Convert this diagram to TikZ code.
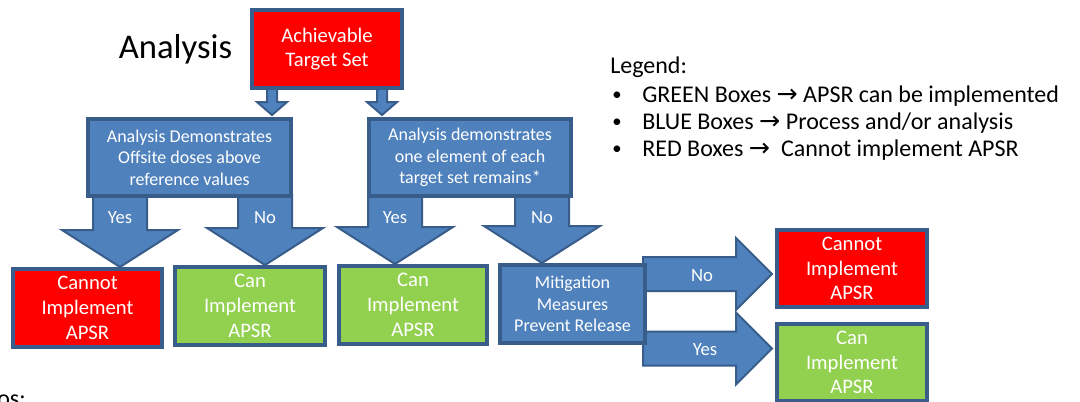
\documentclass[tikz,border=0pt]{standalone}
\usepackage{fontspec}
\setmainfont{Carlito}
\newfontfamily\symfont{DejaVu Sans}
\usetikzlibrary{calc}
\definecolor{obBlue}{HTML}{4F81BD}
\definecolor{obDark}{HTML}{385D8A}
\definecolor{obRed}{HTML}{FF0000}
\definecolor{obGreen}{HTML}{92D050}
\pgfdeclarelayer{back}
\pgfsetlayers{back,main}
\tikzset{
  box/.style={draw=obDark, line width=3pt, inner sep=0pt, align=center, text=white},
  bluebox/.style={box, fill=obBlue, font=\fontsize{13.5}{16}\selectfont},
  redbox/.style={box, fill=obRed, font=\fontsize{15.5}{18.5}\selectfont},
  greenbox/.style={box, fill=obGreen, font=\fontsize{15.5}{18.5}\selectfont},
  barrow/.style={draw=obDark, fill=obBlue, line width=1.5pt, line join=miter},
  arrlabel/.style={text=white, font=\fontsize{14}{16}\selectfont, inner sep=0pt},
  legtext/.style={anchor=west, inner sep=0pt, font=\fontsize{18}{21}\selectfont},
}
\newcommand\legarrow{{\symfont\fontsize{19}{21}\selectfont →}}
% down block arrow from node #1 to node #2 at x=#3 (px)
\newcommand\dnarr[3]{%
  \draw[barrow] let \p1=(#1.south), \p2=(#2.north), \p3=(#3,0) in
    (\x3-20.25pt,\y1+3pt) -- (\x3+20.25pt,\y1+3pt) -- (\x3+20.25pt,\y2+27.75pt)
    -- (\x3+43.5pt,\y2+27.75pt) -- (\x3,\y2) -- (\x3-43.5pt,\y2+27.75pt)
    -- (\x3-20.25pt,\y2+27.75pt) -- cycle;}
% small down arrow
\newcommand\smarr[3]{%
  \draw[barrow] let \p1=(#1.south), \p2=(#2.north), \p3=(#3,0) in
    (\x3-3.75pt,\y1+2pt) -- (\x3+3.75pt,\y1+2pt) -- (\x3+3.75pt,\y2+11.25pt)
    -- (\x3+11.25pt,\y2+11.25pt) -- (\x3,\y2+1.5pt) -- (\x3-11.25pt,\y2+11.25pt)
    -- (\x3-3.75pt,\y2+11.25pt) -- cycle;}
% right block arrow from node #1 to node #2 at y=#3 (px)
\newcommand\rtarr[3]{%
  \draw[barrow] let \p1=(#1.east), \p2=(#2.west), \p3=(0,#3) in
    (\x1-3pt,\y3+12.75pt) -- (\x2-29.25pt,\y3+12.75pt) -- (\x2-29.25pt,\y3+27pt)
    -- (\x2-2.25pt,\y3) -- (\x2-29.25pt,\y3-27pt) -- (\x2-29.25pt,\y3-12.75pt)
    -- (\x1-3pt,\y3-12.75pt) -- cycle;}
\begin{document}
\begin{tikzpicture}[x=0.75pt,y=-0.75pt]
\useasboundingbox (0,0) rectangle (1080,401);
\clip (0,0) rectangle (1080,401);

% boxes
\node[redbox, minimum width=112.5pt, minimum height=58.5pt] (top) at (327,49) {Achievable\\Target Set};
\node[bluebox, minimum width=152.25pt, minimum height=57.75pt] (b1) at (189.5,157.5) {Analysis Demonstrates\\Offsite doses above\\reference values};
\node[bluebox, minimum width=151.5pt, minimum height=57.75pt] (b2) at (470,157.5) {Analysis demonstrates\\one element of each\\target set remains*};
\node[redbox, minimum width=111.75pt, minimum height=58.5pt] (r1) at (87.5,308) {Cannot\\Implement\\APSR};
\node[greenbox, minimum width=112.5pt, minimum height=58.5pt] (g1) at (250,306) {Can\\Implement\\APSR};
\node[greenbox, minimum width=111pt, minimum height=58.5pt] (g2) at (413,305) {Can\\Implement\\APSR};
\node[bluebox, minimum width=108.75pt, minimum height=58.5pt] (m) at (572.5,304) {Mitigation\\Measures\\Prevent Release};
\node[redbox, minimum width=112.5pt, minimum height=57.75pt] (r2) at (852,268.5) {Cannot\\Implement\\APSR};
\node[greenbox, minimum width=112.5pt, minimum height=57.75pt] (g3) at (852,362.5) {Can\\Implement\\APSR};

% block arrows behind the boxes
\begin{pgfonlayer}{back}
\fill[white] (0,0) rectangle (1080,401);
\smarr{top}{b1}{272}
\smarr{top}{b2}{382}
\dnarr{b1}{r1}{120}
\dnarr{b1}{g1}{265}
\dnarr{b2}{g2}{395}
\dnarr{b2}{m}{542}
\rtarr{m}{r2}{274}
\rtarr{m}{g3}{348.5}
\end{pgfonlayer}

% arrow labels
\node[arrlabel] (ly1) at (120,218) {Yes};
\node[arrlabel] (ln1) at (265,218) {No};
\node[arrlabel] (ly2) at (395,218) {Yes};
\node[arrlabel] (ln2) at (542,218) {No};
\node[arrlabel] (ln3) at (702,276) {No};
\node[arrlabel] (ly3) at (705,350) {Yes};

% title
\node[font=\fontsize{26}{30}\selectfont, inner sep=0pt] (title) at (175.5,49) {Analysis};

% legend
\node[legtext] (leg) at (610,67) {Legend:};
\node[legtext, font=\fontsize{14}{16}\selectfont] (bu1) at (612,96) {\textbullet};
\node[legtext, font=\fontsize{14}{16}\selectfont] (bu2) at (612,123) {\textbullet};
\node[legtext, font=\fontsize{14}{16}\selectfont] (bu3) at (612,150) {\textbullet};
\node[legtext] (lg1) at (642,96) {GREEN Boxes \legarrow{} APSR can be implemented};
\node[legtext] (lg2) at (642,123) {BLUE Boxes \legarrow{} Process and/or analysis};
\node[legtext] (lg3) at (642,150) {RED Boxes \legarrow\ \ Cannot implement APSR};

% clipped text at bottom left
\node[anchor=base west, inner sep=0pt, font=\fontsize{18}{21}\selectfont] (os) at (-3,406) {os:};
\end{tikzpicture}
\end{document}
